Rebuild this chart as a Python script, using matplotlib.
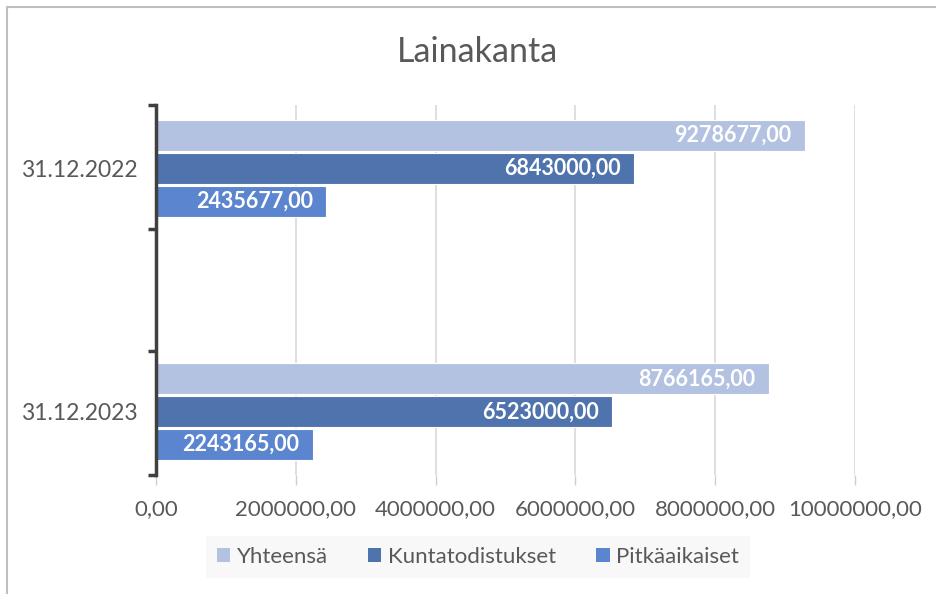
import matplotlib
matplotlib.use("Agg")
import matplotlib.pyplot as plt
from matplotlib.patches import Rectangle
import numpy as np

categories = ["31.12.2022", "31.12.2023"]
series_names = ["Yhteensä", "Kuntatodistukset", "Pitkäaikaiset"]
yhteensa = [9278677.00, 8766165.00]
kuntatodistukset = [6843000.00, 6523000.00]
pitkaaikaiset = [2435677.00, 2243165.00]
x_ticks = [0, 2000000, 4000000, 6000000, 8000000, 10000000]
x_ticklabels = ["0,00", "2000000,00", "4000000,00", "6000000,00", "8000000,00", "10000000,00"]
colors = ["#B4C2E2", "#4F73AD", "#5B85CF"]

plt.rcParams['font.family'] = ['Lato', 'DejaVu Sans']
txt = "#595959"

fig = plt.figure(figsize=(9.36, 5.94), dpi=100)
fig.patch.set_facecolor("white")
# outer chart border (right and bottom edges lie outside the image)
fig.patches.append(Rectangle((6.5/936, -10/594), 960/936, (594 - 6.5 + 10)/594,
                             transform=fig.transFigure, fill=False,
                             edgecolor="#BFBFBF", linewidth=1.5))

ax = fig.add_axes([156/936, 119/594, 699/936, 370/594])
ypos = np.arange(len(categories))
h = 0.128
offs = [-0.135, 0.0, 0.135]
data = [yhteensa, kuntatodistukset, pitkaaikaiset]
for vals, c, o, name in zip(data, colors, offs, series_names):
    bars = ax.barh(ypos + o, vals, height=h, color=c, edgecolor="white", linewidth=0.8,
                   label=name, zorder=3)
    for b, v in zip(bars, vals):
        ax.annotate(f"{v:.2f}".replace(".", ","), (v, b.get_y() + b.get_height()/2),
                    xytext=(-9.5, 0), textcoords="offset points", ha="right", va="center",
                    color="white", fontsize=15.5, fontweight="bold", zorder=4)

ax.set_ylim(1.26, -0.26)
ax.set_xlim(0, 10000000)
ax.set_xticks(x_ticks)
ax.set_xticklabels(x_ticklabels, color=txt, fontsize=16)
ax.set_yticks(ypos)
ax.set_yticklabels(categories, color=txt, fontsize=16.5)
ax.tick_params(axis="y", length=0, pad=13)
ax.set_yticks([-0.26, 0.25, 0.75, 1.26], minor=True)
ax.tick_params(axis="y", which="minor", length=6, width=2.5, color="#404040", direction="out")
ax.tick_params(axis="x", length=7, width=1, color="#D0D0D0", pad=10)
ax.grid(axis="x", color="#D9D9D9", linewidth=1.2, zorder=0)
for s in ["top", "right", "bottom"]:
    ax.spines[s].set_visible(False)
ax.spines["left"].set_color("#404040")
ax.spines["left"].set_linewidth(2.5)
ax.spines["left"].set_zorder(5)

fig.text(478/936, 1 - 52/594, "Lainakanta", ha="center", va="center", fontsize=24.5, color=txt)

handles = [Rectangle((0, 0), 1, 1, facecolor=c, edgecolor="none") for c in colors]
leg = fig.legend(handles, series_names, loc="center", bbox_to_anchor=(478/936, 1 - 557/594),
                 ncol=3, frameon=True, fontsize=16, handlelength=0.6, handleheight=0.6,
                 handletextpad=0.3, columnspacing=1.8, borderpad=0.5, fancybox=False)
leg.get_frame().set_facecolor("#F7F7F7")
leg.get_frame().set_edgecolor("none")
for t in leg.get_texts():
    t.set_color(txt)

fig.savefig("out.png", dpi=100)
